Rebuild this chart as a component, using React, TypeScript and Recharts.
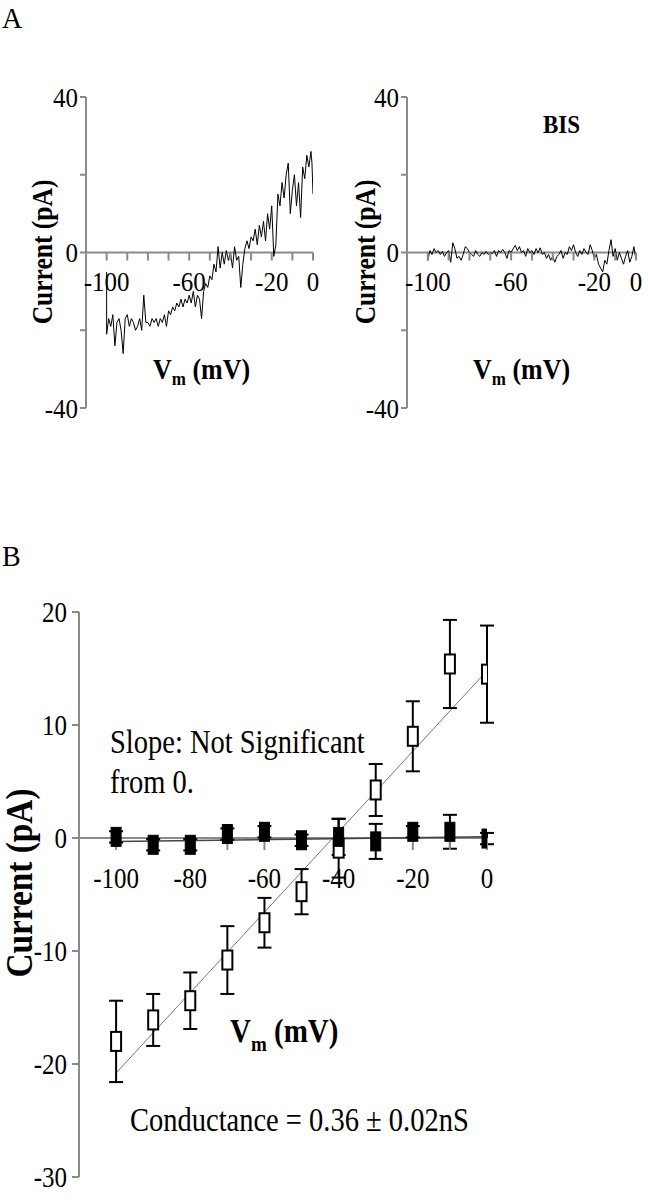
import React from 'react';
import {
  ComposedChart,
  Line,
  Scatter,
  XAxis,
  YAxis,
  ReferenceLine,
  ReferenceDot,
  ErrorBar,
} from 'recharts';

const AXIS = '#8a8a8a';
const SERIF = '"Liberation Serif", "Times New Roman", serif';

// ---------- Panel A: ramp traces (mV, pA) ----------
const controlTrace: [number, number][] = [
  [-100, -5], [-100, -21], [-99, -17], [-98, -19], [-97, -16], [-96, -24], [-95, -18],
  [-94, -17], [-93, -20], [-92, -26], [-91, -17], [-90, -16], [-89, -19], [-88, -17],
  [-87, -18], [-86, -20], [-85, -19], [-84, -17], [-83, -20], [-82, -11], [-81, -18],
  [-80, -18], [-79, -19], [-78, -17], [-77, -18], [-76, -17], [-75, -19], [-74, -17],
  [-73, -18], [-72, -16], [-71, -19], [-70, -15], [-69, -16], [-68, -14], [-67, -15],
  [-66, -13], [-65, -14], [-64, -12], [-63, -14], [-62, -12], [-61, -13], [-60, -11],
  [-59, -13], [-58, -10], [-57, -14], [-56, -11], [-55, -12], [-54, -17], [-53, -10],
  [-52, -8], [-51, -9], [-50, -6], [-49, -7], [-48, -3], [-47, -5], [-46, 1.5],
  [-45, -4], [-44, 0], [-43, -3], [-42, 0.5], [-41, -2], [-40, 0], [-39, -4],
  [-38, 1.5], [-37, -2], [-36, -1], [-35, -9], [-34, -3], [-33, 1], [-32, 3],
  [-31, 1], [-30, 4], [-29, 3], [-28, 6], [-27, 2], [-26, 7], [-25, 4], [-24, 8],
  [-23, 3], [-22, 10], [-21, 6], [-20, 12], [-19, -1], [-18, 2], [-17, 15], [-16, 12],
  [-15, 18], [-14, 14], [-13, 20], [-12, 23], [-11, 10], [-10, 16], [-9, 20], [-8, 12],
  [-7, 18], [-6, 9], [-5, 22], [-4, 19], [-3, 25], [-2, 22], [-1, 26], [-0.5, 23], [0, 15],
];

const bisTrace: [number, number][] = [
  [-100, 0], [-100, -2], [-99, 0.5], [-98, -0.5], [-97, 1], [-96, 0], [-95, 0.5],
  [-94, -0.5], [-93, 0.3], [-92, -1], [-91, 0], [-90, 0.5], [-89, -2.5], [-88, 2.5],
  [-87, 1], [-86, -1.5], [-85, -1], [-84, -2], [-83, -0.5], [-82, 1.5], [-81, 1],
  [-80, 0], [-79, -0.5], [-78, -1], [-77, 0.5], [-76, -0.5], [-75, -1], [-74, 0],
  [-73, -0.5], [-72, 0.3], [-71, -0.5], [-70, 0], [-69, -0.3], [-68, 0.5], [-67, -1],
  [-66, 0.5], [-65, 0], [-64, 0.8], [-63, 0], [-62, -1.5], [-61, 0.5], [-60, 0],
  [-59, 1], [-58, 1.8], [-57, 0.5], [-56, 1.5], [-55, 0], [-54, 0.5], [-53, -1],
  [-52, 1], [-51, 0], [-50, 0.5], [-49, -0.5], [-48, 1], [-47, 0], [-46, 1.2],
  [-45, -0.5], [-44, 0], [-43, -1.5], [-42, -0.5], [-41, -2], [-40, -1], [-39, -2.5],
  [-38, -1], [-37, -0.5], [-36, 0.5], [-35, -1.5], [-34, 0], [-33, -0.5], [-32, 1.5],
  [-31, 0.5], [-30, 2], [-29, 0], [-28, -1], [-27, 0.5], [-26, -0.5], [-25, 1],
  [-24, 0], [-23, -0.5], [-22, 2], [-21, 0.5], [-20, -1.5], [-19, -0.5], [-18, -3],
  [-17, -4], [-16, -5], [-15, -2], [-14, -3], [-13, 0.5], [-12, 3.3], [-11, -1],
  [-10, 1], [-9, -2], [-8, 0], [-7, -1.5], [-6, -3], [-5, -1], [-4, 0.5], [-3, -2.5],
  [-2, -1], [-1, 1.5], [0, -2],
];

const vTicksA = [-100, -90, -80, -70, -60, -50, -40, -30, -20, -10, 0];
const vLabelsA = [-100, -60, -20, 0];
const iTicksA = [-40, -20, 0, 20, 40];
const iLabelsA = [-40, 0, 40];

// ---------- Panel B: step I-V (mean ± SEM) ----------
const stepV = [-100, -90, -80, -70, -60, -50, -40, -30, -20, -10, 0];
const controlMean = [-18.0, -16.1, -14.4, -10.8, -7.5, -4.75, -0.9, 4.25, 9.0, 15.4, 14.5];
const controlErr = [3.6, 2.3, 2.5, 3.0, 2.2, 2.0, 2.6, 2.3, 3.1, 3.9, 4.3];
const bisMean = [0.1, -0.6, -0.6, 0.35, 0.55, -0.2, 0.1, -0.3, 0.55, 0.55, -0.05];
const bisErr = [0.5, 0.5, 0.5, 0.5, 0.5, 0.5, 1.6, 1.55, 0.5, 1.5, 0.5];
const fitV = [-100, 0];
const controlFit = [-20.8, 14.8];
const bisFit = [-0.3, 0.1];

const vTicksB = [-100, -90, -80, -70, -60, -50, -40, -30, -20, -10, 0];
const vLabelsB = [-100, -80, -60, -40, -20, 0];
const iTicksB = [-30, -20, -10, 0, 10, 20];

// ---------- derived tables ----------
const controlTraceData = controlTrace.map(([v, i]) => ({ v, i }));
const bisTraceData = bisTrace.map(([v, i]) => ({ v, i }));
const controlPts = stepV.map((v, k) => ({ v, mean: controlMean[k], err: controlErr[k] }));
const bisPts = stepV.map((v, k) => ({ v, mean: bisMean[k], err: bisErr[k] }));
const controlFitData = fitV.map((v, k) => ({ v, fit: controlFit[k] }));
const bisFitData = fitV.map((v, k) => ({ v, fit: bisFit[k] }));

// text with a local transform (reference type is tall and narrow)
const SText = ({ x, y, sx = 1, sy = 1, rotate = 0, children, ...rest }: any) => (
  <text
    x={0}
    y={0}
    transform={`translate(${x} ${y}) rotate(${rotate}) scale(${sx} ${sy})`}
    fontFamily={SERIF}
    fill="#000"
    {...rest}
  >
    {children}
  </text>
);

const makeXTick = (label: string | null, len: number, offset: number, fontSize: number, sy: number) =>
  (props: any) => (
    <g>
      <line x1={props.cx} y1={props.cy} x2={props.cx} y2={props.cy + len} stroke={AXIS} strokeWidth={2} />
      {label !== null && (
        <SText x={props.cx} y={props.cy + offset} sy={sy} textAnchor="middle" fontSize={fontSize}>
          {label}
        </SText>
      )}
    </g>
  );

const makeYTick = (labels: number[], fontSize: number, sy: number) => (props: any) => {
  const { x, y, payload } = props;
  if (!labels.includes(payload.value)) return <g />;
  return (
    <SText x={x} y={y} sy={sy} dy="0.35em" textAnchor="end" fontSize={fontSize}>
      {payload.value}
    </SText>
  );
};

const OpenSquare = (props: any) => (
  <rect x={props.cx - 5} y={props.cy - 9.5} width={10} height={19} fill="#fff" stroke="#000" strokeWidth={2} />
);
const FilledSquare = (props: any) => (
  <rect x={props.cx - 5} y={props.cy - 9.5} width={10} height={19} fill="#000" stroke="#000" strokeWidth={1} />
);

function TracePanel({ data, margin }: { data: { v: number; i: number }[]; margin: any }) {
  return (
    <ComposedChart width={328} height={355} margin={margin}>
      <XAxis type="number" dataKey="v" domain={[-110, 0]} hide allowDataOverflow />
      <YAxis
        type="number"
        domain={[-40, 40]}
        ticks={iTicksA}
        interval={0}
        width={60}
        axisLine={{ stroke: AXIS, strokeWidth: 2 }}
        tickLine={{ stroke: AXIS, strokeWidth: 2 }}
        tickSize={6}
        tickMargin={2}
        tick={makeYTick(iLabelsA, 25, 1.12)}
        allowDataOverflow
      />
      <ReferenceLine y={0} stroke={AXIS} strokeWidth={2} />
      {vTicksA.map((v) => (
        <ReferenceDot
          key={v}
          x={v}
          y={0}
          r={0}
          ifOverflow="visible"
          shape={makeXTick(vLabelsA.includes(v) ? String(v) : null, 8, 38, 25, 1.12)}
        />
      ))}
      <Line data={data} dataKey="i" stroke="#000" strokeWidth={1} dot={false} isAnimationActive={false} />
    </ComposedChart>
  );
}

export default function App() {
  return (
    <div style={{ position: 'absolute', left: 0, top: 0, width: 648, height: 1200, background: '#fff', overflow: 'hidden' }}>
      <div style={{ position: 'absolute', left: 0, top: 80 }}>
        <TracePanel data={controlTraceData} margin={{ top: 17, bottom: 27, left: 26, right: 15 }} />
      </div>
      <div style={{ position: 'absolute', left: 320, top: 80 }}>
        <TracePanel data={bisTraceData} margin={{ top: 17, bottom: 27, left: 27, right: 12 }} />
      </div>
      <div style={{ position: 'absolute', left: 0, top: 590 }}>
        <ComposedChart width={648} height={610} margin={{ top: 22, bottom: 23, left: 19, right: 161 }}>
          <XAxis type="number" dataKey="v" domain={[-110, 0]} hide allowDataOverflow />
          <YAxis
            type="number"
            domain={[-30, 20]}
            ticks={iTicksB}
            interval={0}
            width={60}
            axisLine={{ stroke: AXIS, strokeWidth: 2 }}
            tickLine={{ stroke: AXIS, strokeWidth: 2 }}
            tickSize={7}
            tickMargin={5}
            tick={makeYTick(iTicksB, 25, 1.15)}
            allowDataOverflow
          />
          <ReferenceLine y={0} stroke={AXIS} strokeWidth={2} />
          {vTicksB.map((v) => (
            <ReferenceDot
              key={v}
              x={v}
              y={0}
              r={0}
              ifOverflow="visible"
              shape={makeXTick(vLabelsB.includes(v) ? String(v) : null, 12, 50, 25, 1.15)}
            />
          ))}
          <Line data={controlFitData} dataKey="fit" stroke="#777" strokeWidth={1} dot={false} isAnimationActive={false} />
          <Line data={bisFitData} dataKey="fit" stroke="#444" strokeWidth={1.5} dot={false} isAnimationActive={false} />
          <Scatter data={controlPts} dataKey="mean" shape={OpenSquare} isAnimationActive={false}>
            <ErrorBar dataKey="err" direction="y" width={7} stroke="#000" strokeWidth={2} />
          </Scatter>
          <Scatter data={bisPts} dataKey="mean" shape={FilledSquare} isAnimationActive={false}>
            <ErrorBar dataKey="err" direction="y" width={7} stroke="#000" strokeWidth={2} />
          </Scatter>
        </ComposedChart>
      </div>
      <svg
        width={648}
        height={1200}
        style={{ position: 'absolute', left: 0, top: 0, pointerEvents: 'none' }}
      >
        <SText x={2} y={28} sy={1.05} fontSize={28}>A</SText>
        <SText x={2} y={566} sy={1.05} fontSize={28}>B</SText>

        <SText x={42} y={252} rotate={-90} sx={0.88} textAnchor="middle" dominantBaseline="central" fontSize={29} fontWeight="bold">Current (pA)</SText>
        <SText x={153} y={379} sy={1.15} fontSize={26} fontWeight="bold">
          V<tspan fontSize={17} dy={5}>m</tspan><tspan dy={-5}> (mV)</tspan>
        </SText>

        <SText x={365} y={252} rotate={-90} sx={0.88} textAnchor="middle" dominantBaseline="central" fontSize={29} fontWeight="bold">Current (pA)</SText>
        <SText x={473} y={379} sy={1.15} fontSize={26} fontWeight="bold">
          V<tspan fontSize={17} dy={5}>m</tspan><tspan dy={-5}> (mV)</tspan>
        </SText>
        <SText x={543} y={133} sy={1.1} fontSize={23} fontWeight="bold">BIS</SText>

        <SText x={20} y={883} rotate={-90} sx={0.9} textAnchor="middle" dominantBaseline="central" fontSize={37} fontWeight="bold">Current (pA)</SText>
        <SText x={230} y={1042} sy={1.15} fontSize={29} fontWeight="bold">
          V<tspan fontSize={19} dy={8}>m</tspan><tspan dy={-8}> (mV)</tspan>
        </SText>
        <SText x={110} y={753} sy={1.18} fontSize={28.5}>Slope: Not Significant</SText>
        <SText x={110} y={793} sy={1.18} fontSize={28.5}>from 0.</SText>
        <SText x={130} y={1131} sy={1.15} fontSize={28.5}>Conductance = 0.36 ± 0.02nS</SText>
      </svg>
    </div>
  );
}
